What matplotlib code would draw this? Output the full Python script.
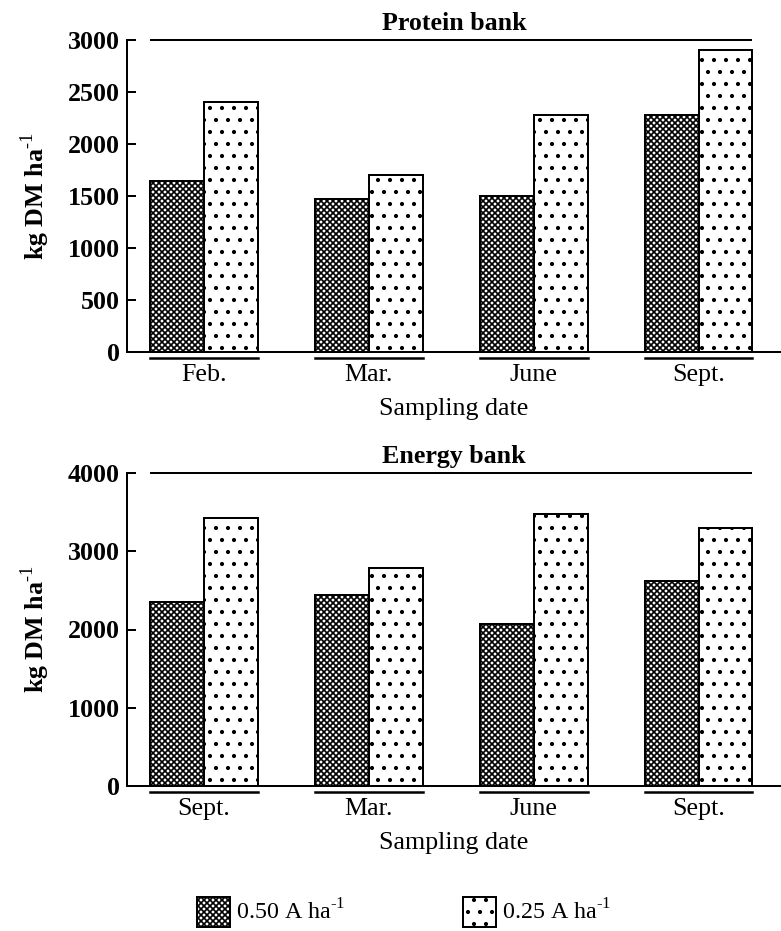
import matplotlib.pyplot as plt
import numpy as np

plt.rcParams['font.family'] = ['Liberation Serif', 'DejaVu Serif']
plt.rcParams['mathtext.fontset'] = 'custom'
plt.rcParams['mathtext.rm'] = 'Liberation Serif'
plt.rcParams['mathtext.bf'] = 'Liberation Serif:bold'
plt.rcParams['hatch.linewidth'] = 1.7

# values (kg DM/ha)
dates_protein = ['Feb.', 'Mar.', 'June', 'Sept.']
dates_energy = ['Sept.', 'Mar.', 'June', 'Sept.']
protein_050 = [1640, 1470, 1500, 2280]
protein_025 = [2400, 1700, 2280, 2900]
energy_050 = [2350, 2440, 2070, 2620]
energy_025 = [3420, 2780, 3480, 3300]
series_labels = [r'0.50 A ha$^{\text{-1}}$', r'0.25 A ha$^{\text{-1}}$']

W, H = 781, 931
fig = plt.figure(figsize=(W / 72, H / 72), dpi=72)
ax1 = fig.add_axes([127 / W, 1 - 352 / H, 654 / W, 312 / H])
ax2 = fig.add_axes([127 / W, 1 - 786 / H, 654 / W, 313 / H])

FS = 26


def draw_panel(ax, labels, v50, v25, ymax, yticks, title):
    x = np.arange(len(labels))
    w = 0.327
    b1 = ax.bar(x - w / 2, v50, w, facecolor='white', edgecolor='black',
                linewidth=2, hatch='xxxx')
    b2 = ax.bar(x + w / 2, v25, w, facecolor='white', edgecolor='black',
                linewidth=2, hatch='.')
    ax.set_xlim(-0.465, 3.5)
    ax.set_ylim(0, ymax)
    for s in ['top', 'right']:
        ax.spines[s].set_visible(False)
    for s in ['left', 'bottom']:
        ax.spines[s].set_linewidth(2)
    # line across the top at the y max
    ax.hlines(ymax, x[0] - w, x[-1] + w, color='black', lw=2, clip_on=False)
    # little underline below each group
    for xi in x:
        ax.plot([xi - w, xi + w], [-0.019, -0.019], transform=ax.get_xaxis_transform(),
                color='black', lw=2.5, clip_on=False)
    ax.set_yticks(yticks)
    ax.tick_params(axis='y', direction='in', length=9, width=2, pad=7, labelsize=FS)
    for t in ax.get_yticklabels():
        t.set_fontweight('bold')
    ax.set_xticks(x, labels, fontsize=FS)
    ax.tick_params(axis='x', length=0, pad=12)
    ax.set_xlabel('Sampling date', fontsize=FS, labelpad=12)
    ax.set_title(title, fontsize=FS, fontweight='bold', pad=10)
    pos = ax.get_position()
    fig.text(35 / W, pos.y0 + pos.height / 2, r'kg DM ha$^{\text{-1}}$', rotation=90,
             ha='center', va='center', fontsize=FS, fontweight='bold')
    return b1, b2


draw_panel(ax1, dates_protein, protein_050, protein_025, 3000,
           [0, 500, 1000, 1500, 2000, 2500, 3000], 'Protein bank')
b1, b2 = draw_panel(ax2, dates_energy, energy_050, energy_025, 4000,
                    [0, 1000, 2000, 3000, 4000], 'Energy bank')

fig.legend(handles=[b1, b2], labels=series_labels, loc='center',
           bbox_to_anchor=(404 / W, 1 - 912 / H), ncol=2, frameon=False,
           handlelength=1.375, handleheight=1.58, handletextpad=0.25,
           columnspacing=4.93, fontsize=24)

fig.savefig('out.png', dpi=72)
